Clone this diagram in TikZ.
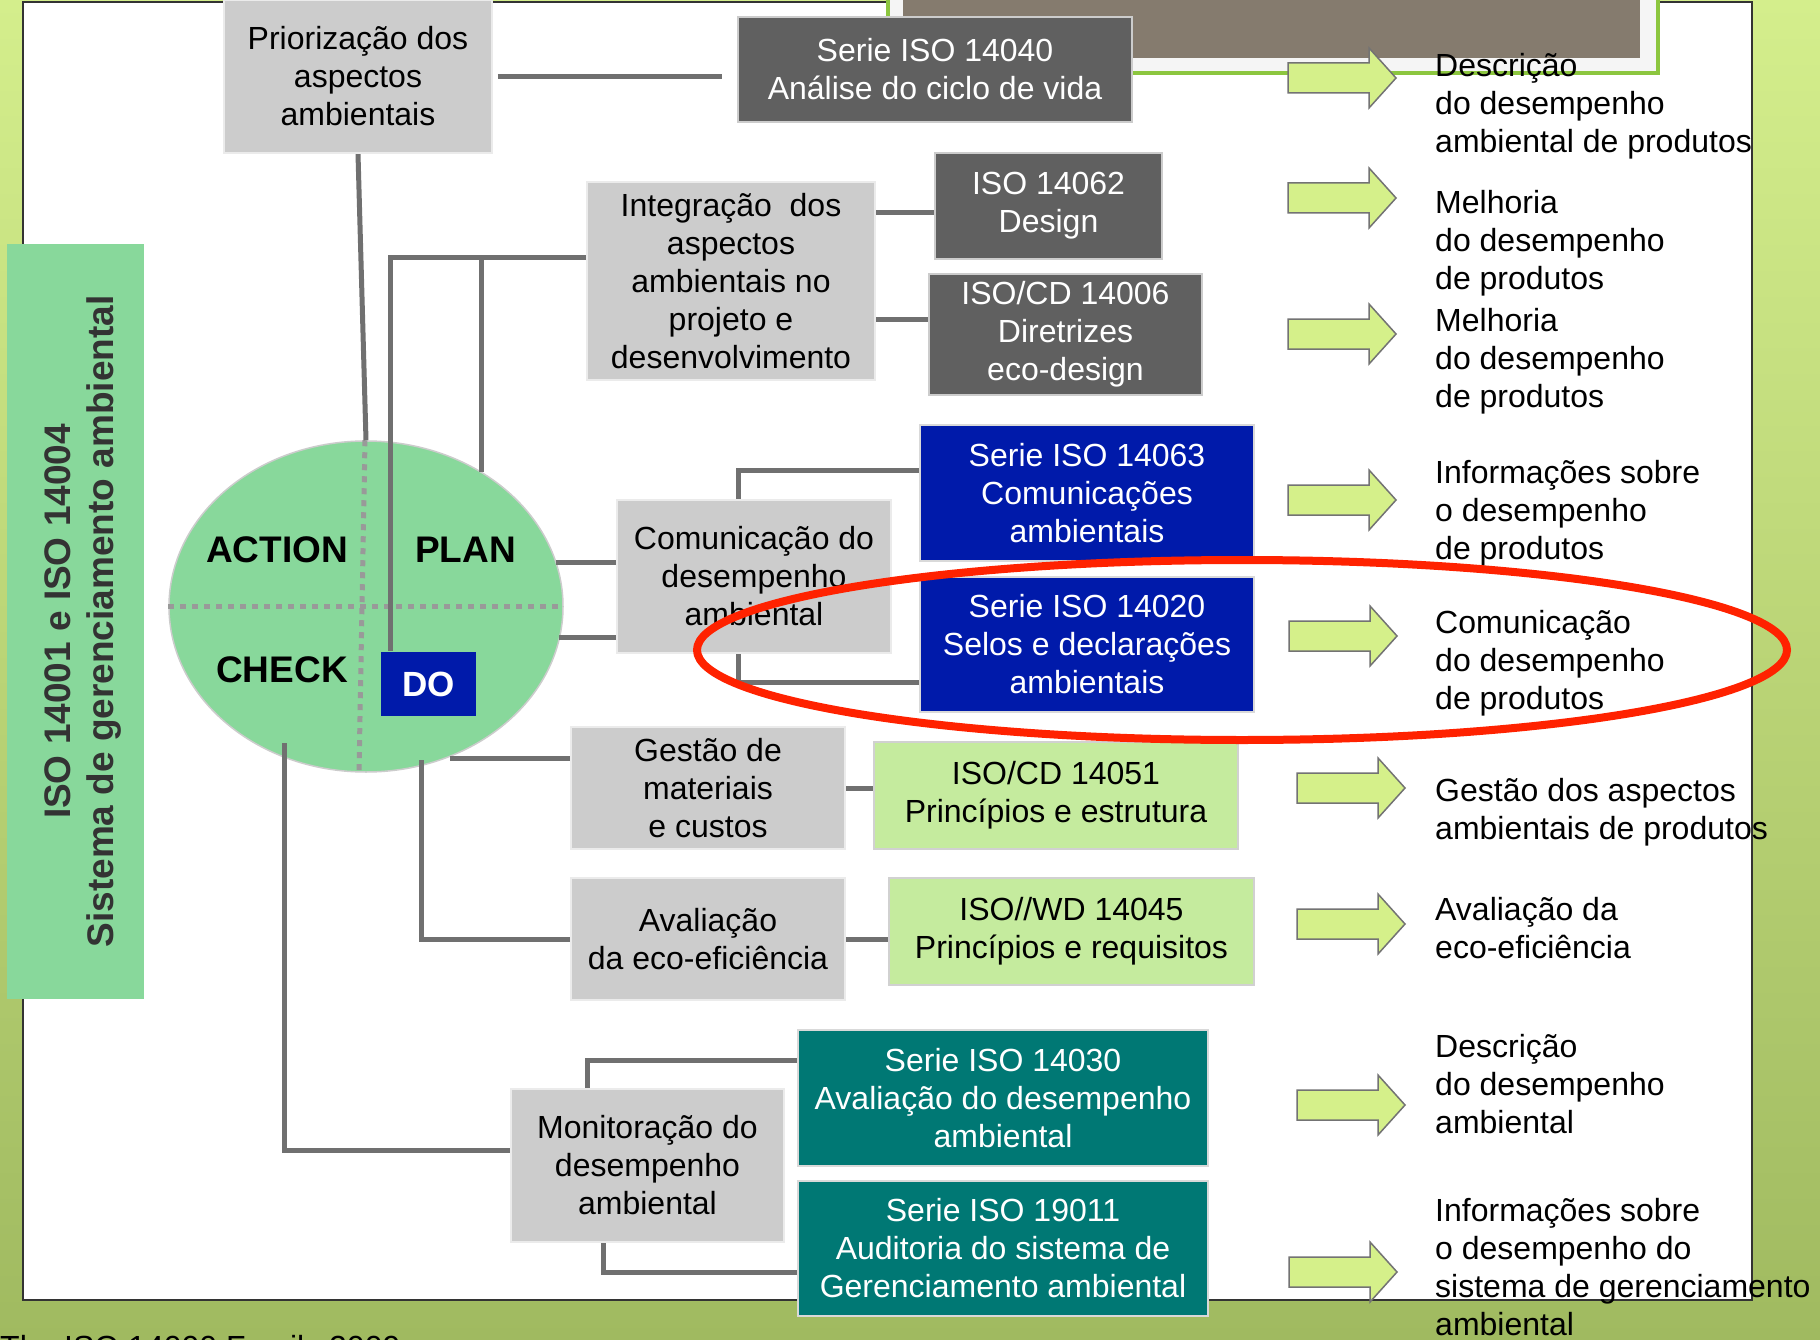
\documentclass[tikz,border=0pt]{standalone}
\usepackage{fontspec}
\setmainfont{Liberation Sans}
\usetikzlibrary{backgrounds,shapes.geometric}
\pgfdeclarelayer{bglayer}
\pgfdeclarelayer{edgelayer}
\pgfdeclarelayer{nodelayer}
\pgfsetlayers{bglayer,edgelayer,nodelayer,main}
\definecolor{slidetop}{RGB}{212,238,140}
\definecolor{slidebot}{RGB}{160,186,96}
\definecolor{boxgray}{RGB}{204,204,204}
\definecolor{boxdark}{RGB}{96,96,96}
\definecolor{boxblue}{RGB}{0,26,170}
\definecolor{boxteal}{RGB}{0,120,116}
\definecolor{boxlime}{RGB}{197,235,158}
\definecolor{pdcagreen}{RGB}{136,216,155}
\definecolor{arrowlime}{RGB}{213,240,138}
\definecolor{linkgray}{RGB}{112,112,112}
\definecolor{ringred}{RGB}{255,34,0}
\definecolor{framegreen}{RGB}{140,198,63}
\definecolor{photobrown}{RGB}{133,123,110}
\tikzset{x=1pt,y=-1pt,font=\fontsize{32}{38}\selectfont}
\tikzstyle{box}=[rectangle,inner sep=0pt,align=center]
\tikzstyle{graybox}=[box,fill=boxgray,draw=black!8,line width=1.5pt]
\tikzstyle{darkbox}=[box,fill=boxdark,draw=black!20,line width=2pt,text=white]
\tikzstyle{bluebox}=[box,fill=boxblue,draw=black!15,line width=2pt,text=white]
\tikzstyle{tealbox}=[box,fill=boxteal,draw=black!15,line width=2pt,text=white]
\tikzstyle{limebox}=[box,fill=boxlime,draw=black!18,line width=2pt]
\tikzstyle{outcome}=[inner sep=0pt,anchor=west,align=left]
\tikzstyle{phase}=[inner sep=0pt,font=\fontsize{37}{43}\selectfont\bfseries]
\tikzstyle{quarter}=[draw=black!40,line width=5pt,dash pattern=on 6pt off 6pt]
\tikzstyle{link}=[draw=linkgray,line width=5pt]
\tikzset{blockarrow/.pic={
	\draw [draw=black!55,fill=arrowlime,line width=1.5pt] (0,-15) -- (81,-15) -- (81,-30) -- (108,0) -- (81,30) -- (81,15) -- (0,15) -- cycle;
}}

\begin{document}
\begin{tikzpicture}
	\useasboundingbox (0,0) rectangle (1820,1340);
	\begin{pgfonlayer}{bglayer}
		% slide
		\shade [top color=slidetop,bottom color=slidebot] (0,0) rectangle (1820,1340);
		\draw [fill=white,draw=black!80,line width=2pt] (23,2) rectangle (1752,1300);
		\draw [fill=black!4,draw=framegreen,line width=4pt] (888,-10) rectangle (1658,73);
		\fill [photobrown] (903,-10) rectangle (1640,58);
		% PDCA
		\node [ellipse,fill=pdcagreen,draw=black!20,line width=1.5pt,inner sep=0pt,minimum width=394pt,minimum height=331pt] (pdca) at (366,606.5) {};
		\draw [style=quarter] (pdca.west) -- (pdca.east);
		\draw [style=quarter] ([xshift=-1pt]pdca.north) -- ([xshift=-7pt]pdca.south);
	\end{pgfonlayer}
	\begin{pgfonlayer}{nodelayer}
		\node [style=box,fill=pdcagreen,rotate=90,text=black!80,minimum width=755pt,minimum height=137pt,font=\fontsize{37}{43}\selectfont\bfseries] (ems) at (75,621.5) {};
		\node [rotate=90,inner sep=0pt,align=center,text=black!80,font=\fontsize{37}{43}\selectfont\bfseries] (emstext) at (83,621.5) {ISO 14001 e ISO 14004\\Sistema de gerenciamento ambiental};
		\node [style=phase] (action) at (277,550) {ACTION};
		\node [style=phase] (plan) at (465.5,550) {PLAN};
		\node [style=phase] (check) at (282,670) {CHECK};
		\node [style=bluebox,draw=none,minimum width=95pt,minimum height=64pt,font=\fontsize{35}{40}\selectfont\bfseries] (dobox) at (428.5,684) {DO};

		\node [style=graybox,minimum width=268pt,minimum height=153pt] (prio) at (358,76.5) {Priorização dos\\aspectos\\ambientais};
		\node [style=graybox,minimum width=288pt,minimum height=198pt] (integ) at (731,281) {Integração~ dos\\aspectos\\ambientais no\\projeto e\\desenvolvimento};
		\node [style=graybox,minimum width=274pt,minimum height=153pt] (comun) at (754,576.5) {Comunicação do\\desempenho\\ambiental};
		\node [style=graybox,minimum width=274pt,minimum height=122pt] (gestao) at (708,788) {Gestão de\\materiais\\ e custos};
		\node [style=graybox,minimum width=274pt,minimum height=122pt] (aval) at (708,939) {Avaliação\\da eco-eficiência};
		\node [style=graybox,minimum width=273pt,minimum height=153pt] (monit) at (647.5,1165.5) {Monitoração do\\desempenho\\ambiental};

		\node [style=darkbox,minimum width=394pt,minimum height=105pt] (s14040) at (935,69.5) {Serie ISO 14040\\Análise do ciclo de vida};
		\node [style=darkbox,minimum width=227pt,minimum height=106pt] (s14062) at (1048.5,206) {ISO 14062\\Design};
		\node [style=darkbox,minimum width=273pt,minimum height=121pt] (s14006) at (1065.5,334.5) {ISO/CD 14006\\Diretrizes\\eco-design};
		\node [style=bluebox,minimum width=334pt,minimum height=136pt] (s14063) at (1087,493) {Serie ISO 14063\\Comunicações\\ambientais};
		\node [style=bluebox,minimum width=334pt,minimum height=135pt] (s14020) at (1087,644.5) {Serie ISO 14020\\Selos e declarações\\ambientais};
		\node [style=limebox,minimum width=364pt,minimum height=107pt] (s14051) at (1056,795.5) {ISO/CD 14051\\Princípios e estrutura};
		\node [style=limebox,minimum width=365pt,minimum height=107pt] (s14045) at (1071.5,931.5) {ISO//WD 14045\\Princípios e requisitos};
		\node [style=tealbox,minimum width=410pt,minimum height=136pt] (s14030) at (1003,1098) {Serie ISO 14030\\Avaliação do desempenho\\ambiental};
		\node [style=tealbox,minimum width=410pt,minimum height=135pt] (s19011) at (1003,1248.5) {Serie ISO 19011\\Auditoria do sistema de\\Gerenciamento ambiental};

		% results
		\pic (arrA) at (1288,78) {blockarrow};
		\pic (arrB) at (1288,198) {blockarrow};
		\pic (arrC) at (1288,334) {blockarrow};
		\pic (arrD) at (1288,500) {blockarrow};
		\pic (arrE) at (1289,636) {blockarrow};
		\pic (arrF) at (1297,788) {blockarrow};
		\pic (arrG) at (1297,924) {blockarrow};
		\pic (arrH) at (1297,1105) {blockarrow};
		\pic (arrI) at (1289,1272) {blockarrow};
		\node [style=outcome] (outA) at (1435,106) {Descrição\\do desempenho\\ambiental de produtos};
		\node [style=outcome] (outB) at (1435,243) {Melhoria\\do desempenho\\de produtos};
		\node [style=outcome] (outC) at (1435,361) {Melhoria\\do desempenho\\de produtos};
		\node [style=outcome] (outD) at (1435,513) {Informações sobre\\o desempenho\\de produtos};
		\node [style=outcome] (outE) at (1435,663) {Comunicação\\do desempenho\\de produtos};
		\node [style=outcome] (outF) at (1435,812) {Gestão dos aspectos\\ambientais de produtos};
		\node [style=outcome] (outG) at (1435,928) {Avaliação da\\eco-eficiência};
		\node [style=outcome] (outH) at (1435,1084) {Descrição\\do desempenho\\ambiental};
		\node [style=outcome] (outI) at (1435,1267) {Informações sobre\\o desempenho do\\sistema de gerenciamento\\ambiental};

		\node [anchor=base west,inner sep=0pt] (credit) at (0,1358) {The ISO 14000 Family 2009};
	\end{pgfonlayer}
	\begin{pgfonlayer}{edgelayer}
		\coordinate (integknee) at (390,258);
		\coordinate (planknee) at (481,258);
		\coordinate (planend) at (481,472);
		\coordinate (i62) at (900,213);
		\coordinate (i06) at (900,319);
		\coordinate (cu) at (556,562);
		\coordinate (cl) at (559,637);
		\coordinate (c63) at (738,470);
		\coordinate (c20) at (738,682);
		\coordinate (gs) at (450,758);
		\coordinate (dostem) at (421,760);
		\coordinate (chk) at (284,743);
		\coordinate (chkknee) at (284,1150);
		\coordinate (m30) at (587,1060);
		\coordinate (m19) at (603,1272);
		\draw [style=link] ([xshift=5pt]prio.east) -- ([xshift=-15pt]prio.east -| s14040.west);
		\draw [style=link] (prio.south) -- (pdca.north);
		\draw [style=link] (integ.west |- integknee) -- (integknee) -- (integknee |- dobox.north);
		\draw [style=link] (planknee) -- (planend);
		\draw [style=link] (integ.east |- i62) -- (i62 -| s14062.west);
		\draw [style=link] (integ.east |- i06) -- (i06 -| s14006.west);
		\draw [style=link] (cu) -- (cu -| comun.west);
		\draw [style=link] (cl) -- (cl -| comun.west);
		\draw [style=link] (c63 |- comun.north) -- (c63) -- (c63 -| s14063.west);
		\draw [style=link] (c20 |- comun.south) -- (c20) -- (c20 -| s14020.west);
		\draw [style=link] (gs) -- (gs -| gestao.west);
		\draw [style=link] (gestao.east) -- (gestao.east -| s14051.west);
		\draw [style=link] (dostem) -- (dostem |- aval.west) -- (aval.west);
		\draw [style=link] (aval.east) -- (aval.east -| s14045.west);
		\draw [style=link] (chk) -- (chkknee) -- (chkknee -| monit.west);
		\draw [style=link] (m30 |- monit.north) -- (m30) -- (m30 -| s14030.west);
		\draw [style=link] (m19 |- monit.south) -- (m19) -- (m19 -| s19011.west);
	\end{pgfonlayer}
	% highlight
	\draw [draw=ringred,line width=8pt] (1242,650) ellipse [x radius=545,y radius=90];
\end{tikzpicture}
\end{document}
